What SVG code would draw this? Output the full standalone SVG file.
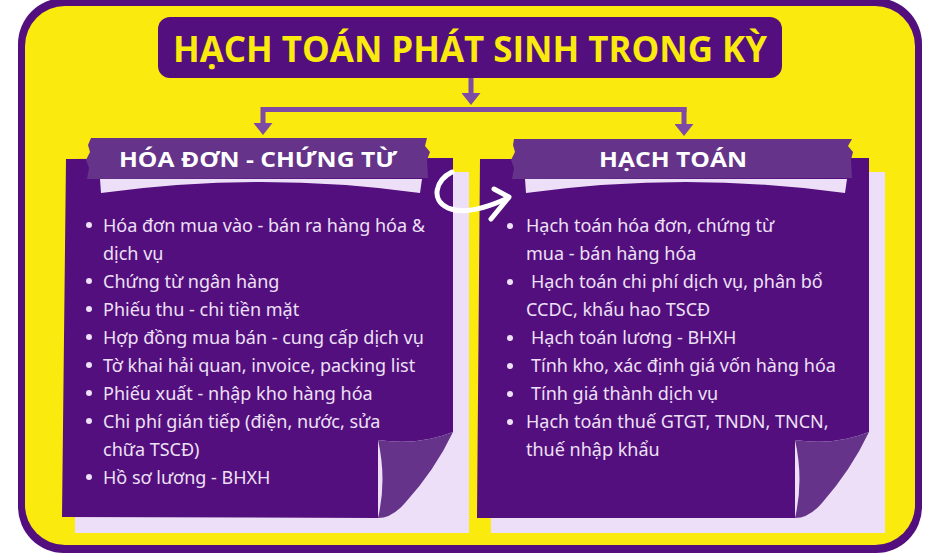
<svg xmlns="http://www.w3.org/2000/svg" width="940" height="555" viewBox="0 0 940 555">
<defs>
<style>
.bg{fill:#ffffff}
.frame{fill:#520F7D}
.inner{fill:#FAEA0E}
.title-box{fill:#520F7D}
.title{font-family:"Open Sans","Liberation Sans",sans-serif;font-weight:700;font-size:36px;fill:#FAEA0E}
.conn{stroke:#7D4BA5;stroke-width:5;fill:none}
.back{fill:#EEDFF8}
.paper{fill:#520F7D}
.curl{fill:#653389}
.banner{fill:#653389}
.tape{fill:#EEDFF8}
.head{font-family:"Open Sans","Liberation Sans",sans-serif;font-weight:700;font-size:22px;fill:#ffffff}
.item{font-family:"Noto Sans","Open Sans","Liberation Sans",sans-serif;font-size:18px;fill:#EEE0F6}
.dot{fill:#EEE0F6}
.swoosh{stroke:#ffffff;stroke-width:5;fill:none;stroke-linecap:round;stroke-linejoin:round}
</style>
<marker id="ah" viewBox="0 0 12 19" markerWidth="12" markerHeight="19" refX="0" refY="9.5" markerUnits="userSpaceOnUse" orient="auto">
<path d="M0,0 L12,9.5 L0,19 Z" fill="#7D4BA5"/>
</marker>
</defs>
<rect class="bg" x="0" y="0" width="940" height="555"/>
<rect class="frame" x="18" y="-2" width="904" height="555" rx="46"/>
<rect class="inner" x="25" y="6" width="890" height="539" rx="40"/>

<g id="title">
<rect class="title-box" x="158" y="17" width="624" height="61" rx="12"/>
<text class="title" x="470" y="62" text-anchor="middle" textLength="594" lengthAdjust="spacingAndGlyphs">HẠCH TOÁN PHÁT SINH TRONG KỲ</text>
</g>

<g id="connectors">
<path class="conn" d="M471,78 L471,93" marker-end="url(#ah)"/>
<path class="conn" d="M263,109.5 L686.5,109.5"/>
<path class="conn" d="M263,107 L263,123" marker-end="url(#ah)"/>
<path class="conn" d="M684,107 L684,124" marker-end="url(#ah)"/>
</g>

<g id="card-left">
<rect class="back" x="75" y="172" width="394" height="361"/>
<path class="paper" d="M66,159 L453,158 L453,432 Q418,446 378,440 L378,518 L62,517 Z"/>
<path class="curl" d="M378,440 Q418,446 453,432 Q435,470 405,503 Q392,518 378,518 Q387,480 378,440 Z"/>
<path class="banner" d="M91,138 L427,138 L425,146 L430,152 L427,160 L428,178 L87,179 L89,168 L86,160 L90,152 L88,145 Z"/>
<path class="tape" d="M100,179 L422,179 L420,193 Q262,171 101,193 Z"/>
<text class="head" x="258" y="167" text-anchor="middle" textLength="278" lengthAdjust="spacingAndGlyphs">HÓA ĐƠN - CHỨNG TỪ</text>
<g class="dot">
<circle cx="89" cy="225" r="3"/><circle cx="89" cy="281" r="3"/><circle cx="89" cy="309" r="3"/><circle cx="89" cy="337" r="3"/><circle cx="89" cy="365" r="3"/><circle cx="89" cy="393" r="3"/><circle cx="89" cy="421" r="3"/><circle cx="89" cy="477" r="3"/>
</g>
<text class="item" x="103" y="231.5">Hóa đơn mua vào - bán ra hàng hóa &amp;</text>
<text class="item" x="103" y="259.5">dịch vụ</text>
<text class="item" x="103" y="287.5">Chứng từ ngân hàng</text>
<text class="item" x="103" y="315.5">Phiếu thu - chi tiền mặt</text>
<text class="item" x="103" y="343.5">Hợp đồng mua bán - cung cấp dịch vụ</text>
<text class="item" x="103" y="371.5">Tờ khai hải quan, invoice, packing list</text>
<text class="item" x="103" y="399.5">Phiếu xuất - nhập kho hàng hóa</text>
<text class="item" x="103" y="427.5">Chi phí gián tiếp (điện, nước, sửa</text>
<text class="item" x="103" y="455.5">chữa TSCĐ)</text>
<text class="item" x="103" y="483.5">Hồ sơ lương - BHXH</text>
</g>

<g id="card-right">
<rect class="back" x="491" y="172" width="394" height="361"/>
<path class="paper" d="M480,159 L869,158 L869,432 Q834,446 795,440 L795,518 L477,518 Z"/>
<path class="curl" d="M795,440 Q834,446 869,432 Q851,470 822,503 Q809,518 795,518 Q804,480 795,440 Z"/>
<path class="banner" d="M514,139 L852,139 L848,146 L853,152 L851,160 L852,178 L512,179 L514,168 L511,160 L515,152 L513,145 Z"/>
<path class="tape" d="M525,179 L847,179 L845,193 Q686,171 526,193 Z"/>
<text class="head" x="673" y="167" text-anchor="middle" textLength="148" lengthAdjust="spacingAndGlyphs">HẠCH TOÁN</text>
<g class="dot">
<circle cx="510" cy="226" r="3"/><circle cx="510" cy="282" r="3"/><circle cx="510" cy="338" r="3"/><circle cx="510" cy="366" r="3"/><circle cx="510" cy="394" r="3"/><circle cx="510" cy="422" r="3"/>
</g>
<text class="item" x="526" y="232">Hạch toán hóa đơn, chứng từ</text>
<text class="item" x="526" y="260">mua - bán hàng hóa</text>
<text class="item" x="531" y="288">Hạch toán chi phí dịch vụ, phân bổ</text>
<text class="item" x="526" y="316">CCDC, khấu hao TSCĐ</text>
<text class="item" x="531" y="344">Hạch toán lương - BHXH</text>
<text class="item" x="531" y="372">Tính kho, xác định giá vốn hàng hóa</text>
<text class="item" x="531" y="400">Tính giá thành dịch vụ</text>
<text class="item" x="526" y="428">Hạch toán thuế GTGT, TNDN, TNCN,</text>
<text class="item" x="526" y="456">thuế nhập khẩu</text>
</g>

<g id="swoosh-arrow">
<path class="swoosh" d="M452,172 C436,180 430,200 448,208 C462,214 482,210 508,198"/>
<path class="swoosh" d="M494,189 L509,197 L491,219"/>
</g>
</svg>
